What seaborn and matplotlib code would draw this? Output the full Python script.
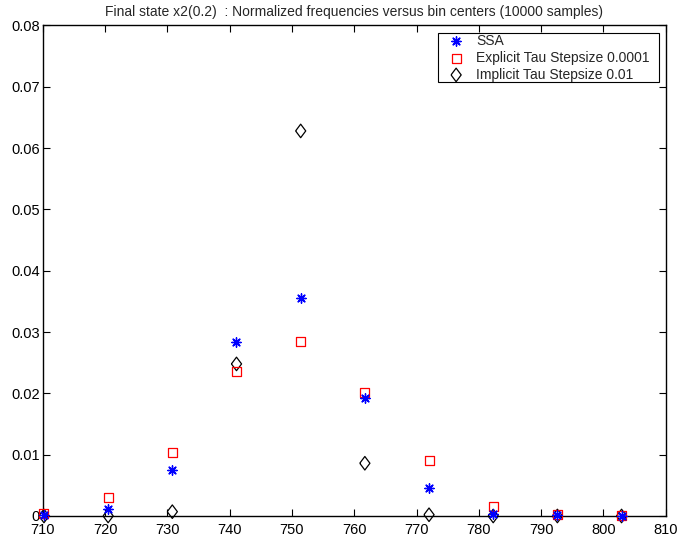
import matplotlib
matplotlib.use("Agg")
import matplotlib.pyplot as plt
import seaborn as sns
import pandas as pd

# Histogram bin centers and normalized frequencies for x2 at t = 0.2
bin_centers = [710.2, 720.5, 730.8, 741.1, 751.4, 761.7, 772.0, 782.3, 792.6, 802.9]
ssa = [0.0002, 0.0011, 0.0075, 0.0283, 0.0356, 0.0193, 0.0045, 0.0004, 0.0001, 0.0000]
explicit_tau = [0.0004, 0.0030, 0.0103, 0.0235, 0.0285, 0.0202, 0.0090, 0.0016, 0.0002, 0.0001]
implicit_tau = [0.0000, 0.0000, 0.0007, 0.0248, 0.0628, 0.0086, 0.0002, 0.0000, 0.0000, 0.0000]

labels = ["SSA", "Explicit Tau Stepsize 0.0001", "Implicit Tau Stepsize 0.01"]
x_ticks = [710, 720, 730, 740, 750, 760, 770, 780, 790, 800, 810]
y_ticks = [0, 0.01, 0.02, 0.03, 0.04, 0.05, 0.06, 0.07, 0.08]
y_tick_labels = ["0", "0.01", "0.02", "0.03", "0.04", "0.05", "0.06", "0.07", "0.08"]

df = pd.concat([
    pd.DataFrame({"center": bin_centers, "freq": ssa, "method": labels[0]}),
    pd.DataFrame({"center": bin_centers, "freq": explicit_tau, "method": labels[1]}),
    pd.DataFrame({"center": bin_centers, "freq": implicit_tau, "method": labels[2]}),
])

sns.set_theme(style="white")
plt.rcParams["font.family"] = ["Liberation Sans", "DejaVu Sans"]

fig = plt.figure(figsize=(6.78, 5.42), dpi=100)
ax = fig.add_axes([0.063, 0.048, 0.919, 0.905])

# slightly tall diamond outline
diamond = [(-0.75, 0.0), (0.0, 1.0), (0.75, 0.0), (0.0, -1.0), (-0.75, 0.0)]

styles = {
    labels[0]: dict(marker=(8, 2, 0), color="#0000ff", s=45, linewidth=1.0, zorder=4),
    labels[1]: dict(marker="s", facecolor="none", edgecolor="#ff0000", s=42, linewidth=0.9, zorder=3),
    labels[2]: dict(marker=diamond, facecolor="none", edgecolor="black", s=95, linewidth=0.9, zorder=2),
}

handles = []
for name in labels:
    sub = df[df["method"] == name]
    kw = dict(styles[name])
    z = kw.pop("zorder")
    sns.scatterplot(data=sub, x="center", y="freq", ax=ax, label=name, legend=False, **kw)
    coll = ax.collections[-1]
    coll.set_zorder(z)
    coll.set_clip_on(False)
    handles.append(coll)

ax.set_xlim(710, 810)
ax.set_ylim(0, 0.08)
ax.set_xticks(x_ticks)
ax.set_yticks(y_ticks)
ax.set_yticklabels(y_tick_labels)
ax.set_xlabel("")
ax.set_ylabel("")
ax.tick_params(axis="both", direction="in", length=5, width=0.8, labelsize=10.5,
               top=True, right=True, bottom=True, left=True, colors="black")
ax.tick_params(axis="x", pad=5)
ax.tick_params(axis="y", pad=2)
for sp in ax.spines.values():
    sp.set_color("black")
    sp.set_linewidth(1.0)

ax.set_title("Final state x2(0.2)  : Normalized frequencies versus bin centers (10000 samples)",
             fontsize=10, pad=7)

leg = ax.legend(handles=handles, labels=labels, loc="upper left", mode="expand",
                bbox_to_anchor=(0.6345, 0.8, 0.3547, 0.184),
                fontsize=10, frameon=True, fancybox=False, edgecolor="black", framealpha=1,
                borderpad=0.05, labelspacing=0.2, handletextpad=0.2, handlelength=2.5,
                borderaxespad=0)
leg.get_frame().set_linewidth(0.8)

fig.savefig("out.png", dpi=100)
